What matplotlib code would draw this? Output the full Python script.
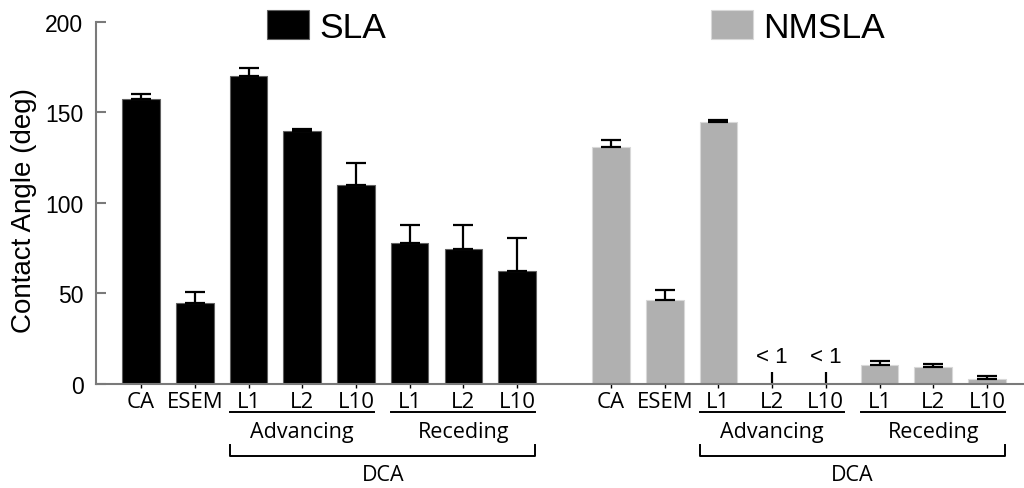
import matplotlib.pyplot as plt
import numpy as np
from matplotlib.transforms import blended_transform_factory

plt.rcParams['font.family'] = ['Liberation Sans', 'DejaVu Sans']

labels = ['CA', 'ESEM', 'L1', 'L2', 'L10', 'L1', 'L2', 'L10']
sla = [157.5, 45, 170, 140, 110, 78, 74.5, 62.5]
sla_err = [2.5, 6, 4.5, 1, 12, 10, 13.5, 18]
nmsla = [131, 46.5, 145, 0, 0, 10.5, 9.5, 2.5]
nmsla_err = [4, 5.5, 1, 6.5, 6.5, 2, 1.5, 1.7]
nmsla_small = [False, False, False, True, True, False, False, False]  # shown as "< 1"
groups = [('Advancing', 2, 4), ('Receding', 5, 7)]
dca = (2, 7)

x_sla = np.arange(len(labels))
x_nm = np.arange(len(labels)) + 8.75
width = 0.7
gray = '#b0b0b0'
spine_col = '#7a7a7a'

fig = plt.figure(figsize=(10.24, 4.89), dpi=100)
ax = fig.add_axes([0.09375, 0.2127, 0.90625, 0.7403])

b1 = ax.bar(x_sla, sla, width, color='black', edgecolor='#606060', linewidth=0.8)
b2 = ax.bar(x_nm, nmsla, width, color=gray, edgecolor='#d8d8d8', linewidth=0.8)

ekw = dict(fmt='none', ecolor='black', elinewidth=1.6, capthick=1.6)
ax.errorbar(x_sla, sla, yerr=[np.zeros(8), sla_err], capsize=7, **ekw)
big = [i for i in range(8) if not nmsla_small[i]]
small = [i for i in range(8) if nmsla_small[i]]
ax.errorbar(x_nm[big], np.array(nmsla)[big],
            yerr=[np.zeros(len(big)), np.array(nmsla_err)[big]], capsize=7, **ekw)
ax.errorbar(x_nm[small], np.array(nmsla)[small],
            yerr=[np.zeros(len(small)), np.array(nmsla_err)[small]], capsize=0, **ekw)
for i in small:
    ax.text(x_nm[i], 15, '< 1', ha='center', va='center', fontsize=16)

ax.set_xlim(-0.84, 16.44)
ax.set_ylim(0, 200)
ax.set_yticks([0, 50, 100, 150, 200])
ax.tick_params(axis='y', direction='in', length=7, width=1.5, color=spine_col,
               labelsize=16.5, pad=9)
ax.set_xticks(np.concatenate([x_sla, x_nm]))
ax.set_xticklabels(labels + labels, family=['Open Sans', 'DejaVu Sans'], fontsize=16)
ax.tick_params(axis='x', direction='out', length=3, width=1, color='black', pad=2)

for s in ['top', 'right']:
    ax.spines[s].set_visible(False)
for s in ['left', 'bottom']:
    ax.spines[s].set_color(spine_col)
    ax.spines[s].set_linewidth(1.5)

ax.set_ylabel('Contact Angle (deg)', fontsize=20)
ax.yaxis.set_label_coords(-0.064, 0.483)

# group brackets below the axis
tr = blended_transform_factory(ax.transData, ax.transAxes)
lab_font = dict(family=['Open Sans', 'DejaVu Sans'], fontsize=15.5, transform=tr,
                ha='center', va='center')
for xs in (x_sla, x_nm):
    for name, i0, i1 in groups:
        ax.plot([xs[i0] - 0.34, xs[i1] + 0.34], [-0.077, -0.077], color='black',
                lw=1.4, transform=tr, clip_on=False)
        ax.text((xs[i0] + xs[i1]) / 2, -0.13, name, **lab_font)
    l, r = xs[dca[0]] - 0.34, xs[dca[1]] + 0.34
    ax.plot([l, l, r, r], [-0.168, -0.199, -0.199, -0.168], color='black',
            lw=1.4, transform=tr, clip_on=False)
    ax.text((xs[dca[0]] + xs[dca[1]]) / 2, -0.249, 'DCA', **lab_font)

# legends at the top
for handle, name, xpos in [(b1, 'SLA', 0.2607), (b2, 'NMSLA', 0.6943)]:
    leg = fig.legend([handle], [name], loc='center left',
                     bbox_to_anchor=(xpos, 0.9427), bbox_transform=fig.transFigure,
                     frameon=False, fontsize=25.5, handlelength=1.18, handleheight=0.86,
                     handletextpad=0.3, borderpad=0, borderaxespad=0)

fig.savefig('out.png', dpi=100)
